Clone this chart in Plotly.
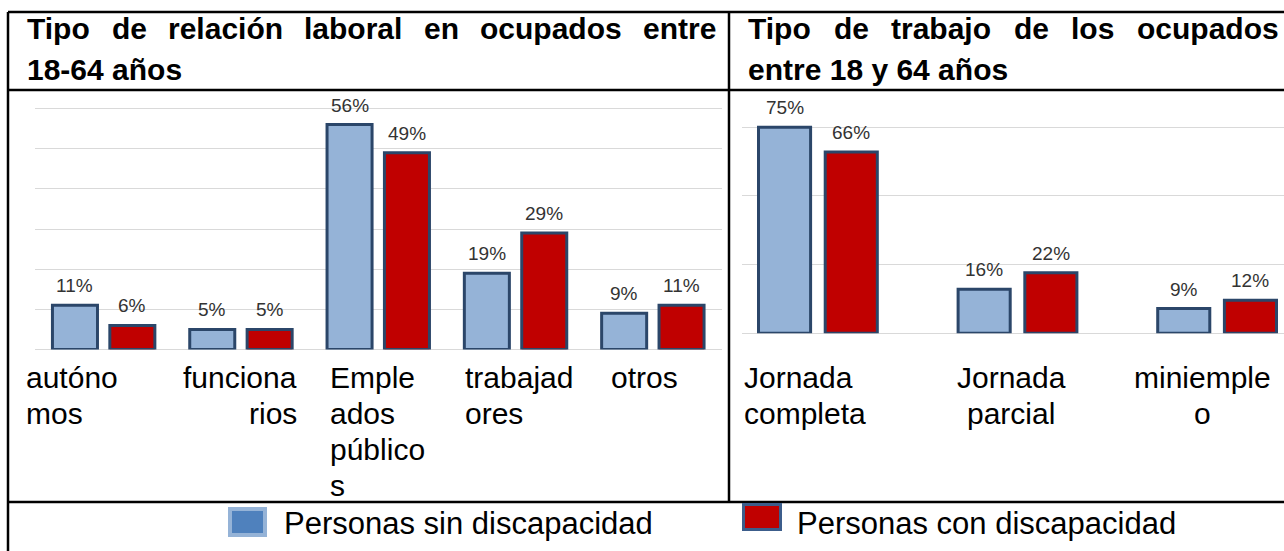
import plotly.graph_objects as go

# ---------------- data ----------------
cat_rel = ["autónomos", "funcionarios", "Empleados públicos", "trabajadores", "otros"]
rel_sin = [11, 5, 56, 19, 9]
rel_con = [6, 5, 49, 29, 11]

cat_trab = ["Jornada completa", "Jornada parcial", "miniempleo"]
trab_sin = [75, 16, 9]
trab_con = [66, 22, 12]

series_names = ["Personas sin discapacidad", "Personas con discapacidad"]

title_rel_lines = ["Tipo de relación laboral en ocupados entre", "18-64 años"]
title_trab_lines = ["Tipo de trabajo de los ocupados", "entre 18 y 64 años"]

labels_rel = ["autóno<br>mos", "funciona<br>rios", "Emple<br>ados<br>público<br>s", "trabajad<br>ores", "otros"]
labels_trab = ["Jornada<br>completa", "Jornada<br>parcial", "miniemple<br>o"]

# ---------------- styling ----------------
W, H = 1284, 551
FONT = "Liberation Sans, Arial, Helvetica, sans-serif"
BLUE = "#95B3D7"
RED = "#C00000"
EDGE = "#2B4669"
GRID = "#D9D9D9"
VSIZE = 19


def fx(px):
    return px / W


def fy(py):
    return 1 - py / H


fig = go.Figure()


def bar_series(cats, vals, color, name, xa, ya, width, offset):
    fig.add_trace(go.Bar(
        x=cats, y=vals, name=name, xaxis=xa, yaxis=ya,
        marker=dict(color=color, line=dict(color=EDGE, width=3)),
        width=width, offset=offset,
        cliponaxis=False, showlegend=False, hoverinfo="skip",
    ))
    # value labels above the bars, positioned on the axes' own scales
    for i, v in enumerate(vals):
        fig.add_annotation(xref=xa, yref=ya, x=i + offset + width / 2, y=v,
                           xanchor="center", yanchor="bottom", yshift=8,
                           showarrow=False, text=f"{v}%", borderpad=0,
                           font=dict(family=FONT, size=VSIZE, color="#333333"))


bar_series(cat_rel, rel_sin, BLUE, series_names[0], "x", "y", 0.328, -0.373)
bar_series(cat_rel, rel_con, RED, series_names[1], "x", "y", 0.328, 0.045)
bar_series(cat_trab, trab_sin, BLUE, series_names[0], "x2", "y2", 0.261, -0.2976)
bar_series(cat_trab, trab_con, RED, series_names[1], "x2", "y2", 0.261, 0.0366)

axis_common = dict(showticklabels=False, ticks="", showline=False, fixedrange=True)
fig.update_layout(
    width=W, height=H,
    margin=dict(l=0, r=0, t=0, b=0),
    paper_bgcolor="white", plot_bgcolor="rgba(0,0,0,0)",
    showlegend=False,
    xaxis=dict(domain=[fx(35), fx(721.5)], range=[-0.5, 4.5], anchor="y",
               showgrid=False, zeroline=False, **axis_common),
    yaxis=dict(domain=[fy(349.5), fy(100.5)], range=[0, 62], anchor="x",
               dtick=10, tick0=0, showgrid=True, gridcolor=GRID, gridwidth=1,
               zeroline=True, zerolinecolor=GRID, zerolinewidth=1, **axis_common),
    xaxis2=dict(domain=[fx(742), 1.0], range=[-0.3803, 2.3352], anchor="y2",
                showgrid=False, zeroline=False, **axis_common),
    yaxis2=dict(domain=[fy(333.3), fy(113.5)], range=[0, 80], anchor="x2",
                dtick=25, tick0=0, showgrid=True, gridcolor=GRID, gridwidth=1,
                zeroline=True, zerolinecolor=GRID, zerolinewidth=1, **axis_common),
)

# ---------------- table frame ----------------
LINE = dict(color="black", width=2.5)
frame = [
    (8, 12, W, 12),      # top
    (8, 12, 8, H),       # left
    (8, 90, W, 90),      # under titles
    (729, 12, 729, 502),  # divider between charts
    (8, 502, W, 502),    # above legend
]
for x0, y0, x1, y1 in frame:
    fig.add_shape(type="line", xref="paper", yref="paper",
                  x0=fx(x0), y0=fy(y0), x1=fx(x1), y1=fy(y1), line=LINE)

# ---------------- titles (justified first line) ----------------
AB = {' ': 278, 'T': 611, 'i': 278, 'p': 611, 'o': 611, 'd': 611, 'e': 556, 'r': 389,
      'l': 278, 'a': 556, 'c': 556, 'ó': 611, 'n': 611, 'b': 611, 'u': 611, 's': 556,
      't': 333, 'j': 278, 'y': 556, '1': 556, '8': 556, '-': 333, '6': 556, '4': 556,
      'ñ': 611}
TSIZE = 30


def justified(line, x0, x1, ypx):
    words = line.split(" ")
    widths = [sum(AB.get(c, 556) for c in w) * TSIZE / 1000 for w in words]
    gap = (x1 - x0 - sum(widths)) / (len(words) - 1)
    x = x0
    for w, wd in zip(words, widths):
        fig.add_annotation(xref="paper", yref="paper", x=fx(x), y=fy(ypx),
                           xanchor="left", yanchor="middle", showarrow=False,
                           text=f"<b>{w}</b>", borderpad=0,
                           font=dict(family=FONT, size=TSIZE, color="black"))
        x += wd + gap


def plain(text, x, ypx, size, anchor="left", bold=False):
    t = f"<b>{text}</b>" if bold else text
    fig.add_annotation(xref="paper", yref="paper", x=fx(x), y=fy(ypx),
                       xanchor=anchor, yanchor="middle", showarrow=False,
                       text=t, borderpad=0,
                       font=dict(family=FONT, size=size, color="black"))


justified(title_rel_lines[0], 26, 715, 29)
plain(title_rel_lines[1], 26, 69, TSIZE, bold=True)
justified(title_trab_lines[0], 747, 1278, 29)
plain(title_trab_lines[1], 747, 69, TSIZE, bold=True)

# ---------------- category labels (wrapped as in the original) ----------------
LSIZE = 30
LINE_STEP = 36
label_pos_rel = [(25, "left"), (298, "right"), (329, "left"), (464, "left"), (610, "left")]
label_pos_trab = [(743, "left"), (1011, "center"), (1202, "center")]
for txt, (x, al) in zip(labels_rel + labels_trab, label_pos_rel + label_pos_trab):
    for k, part in enumerate(txt.split("<br>")):
        plain(part, x, 377 + k * LINE_STEP, LSIZE, anchor=al)

# ---------------- legend ----------------
fig.add_shape(type="rect", xref="paper", yref="paper",
              x0=fx(230), x1=fx(265), y0=fy(535), y1=fy(509),
              fillcolor="#4F81BD", line=dict(color=BLUE, width=4))
fig.add_shape(type="rect", xref="paper", yref="paper",
              x0=fx(743.5), x1=fx(780.5), y0=fy(529.5), y1=fy(504.5),
              fillcolor=RED, line=dict(color="#3C5D8B", width=3))
plain(series_names[0], 283, 523, 31)
plain(series_names[1], 796, 523, 31)

fig.write_html("out.html", config={"displayModeBar": False},
               post_script="document.body.style.margin='0';")
